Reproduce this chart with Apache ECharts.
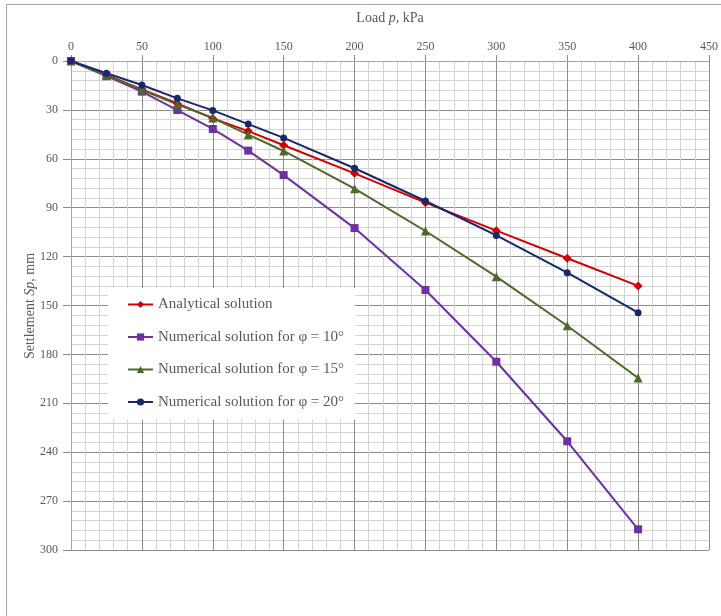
<!DOCTYPE html>
<html>
<head>
<meta charset="utf-8">
<script src="https://cdn.jsdelivr.net/npm/echarts@6/dist/echarts.min.js"></script>
<style>
html,body{margin:0;padding:0;background:#fff;}
#chart{width:721px;height:616px;}
</style>
</head>
<body>
<div id="chart"></div>
<script>
var loads = [0, 25, 50, 75, 100, 125, 150, 200, 250, 300, 350, 400];
var analytical = [0, 8.5, 17.4, 26, 35.2, 43, 51.7, 68.9, 86.9, 104.1, 121, 138];
var phi10 = [0, 9.2, 18.8, 30.1, 41.7, 55, 70, 102.5, 140.5, 184.5, 233.3, 287.3];
var phi15 = [0, 9, 17.8, 26.6, 35, 45.2, 55.2, 78.3, 104.3, 132.3, 162.4, 194.5];
var phi20 = [0, 7.5, 14.7, 22.9, 30.3, 38.7, 47.2, 65.8, 85.9, 107, 129.9, 154.4];
var seriesNames = ['Analytical solution', 'Numerical solution for φ = 10°', 'Numerical solution for φ = 15°', 'Numerical solution for φ = 20°'];
var xTitle = 'Load {i|p}, kPa';
var yTitle = 'Settlement {i|Sp}, mm';

function pairs(ys){ return loads.map(function(x,i){ return [x, ys[i]]; }); }

var font = '"Liberation Serif", "Times New Roman", serif';
var chart = echarts.init(document.getElementById('chart'));
function mk(name, data, color, symbol, size){
  return {
    name: name, type: 'line', data: pairs(data),
    symbol: symbol, symbolSize: size, showSymbol: true,
    lineStyle: {color: color, width: 2},
    itemStyle: {color: color},
    animation: false
  };
}
chart.setOption({
  animation: false,
  backgroundColor: '#fff',
  graphic: [{
    type: 'rect', shape: {x: 6.5, y: 4.5, width: 740, height: 700},
    style: {fill: 'none', stroke: '#a6a6a6', lineWidth: 1}, silent: true, z: -1
  }, {
    type: 'text', x: 30, y: 306, rotation: Math.PI / 2, silent: true,
    style: {
      text: yTitle, fontFamily: font, fontSize: 14, fill: '#595959',
      align: 'center', verticalAlign: 'middle',
      rich: {i: {fontFamily: font, fontSize: 14, fontStyle: 'italic', fill: '#595959'}}
    }
  }],
  grid: {left: 71, top: 61, width: 638, height: 489, containLabel: false},
  xAxis: {
    type: 'value', position: 'top', min: 0, max: 450, interval: 50,
    name: xTitle, nameLocation: 'middle', nameGap: 36,
    nameTextStyle: {fontFamily: font, fontSize: 14, color: '#595959',
      rich: {i: {fontFamily: font, fontSize: 14, fontStyle: 'italic', color: '#595959'}}},
    axisLine: {show: true, lineStyle: {color: '#a6a6a6', width: 1}},
    axisTick: {show: true, length: 6, lineStyle: {color: '#8c8c8c'}},
    axisLabel: {fontFamily: font, fontSize: 12, color: '#595959', margin: 8},
    splitLine: {show: true, lineStyle: {color: '#8c8c8c', width: 1}},
    minorTick: {show: false, splitNumber: 5},
    minorSplitLine: {show: true, lineStyle: {color: '#d4d4d4', width: 1}}
  },
  yAxis: {
    type: 'value', inverse: true, min: 0, max: 300, interval: 30,
    axisLine: {show: true, lineStyle: {color: '#a6a6a6', width: 1}},
    axisTick: {show: true, length: 8, lineStyle: {color: '#8c8c8c'}},
    axisLabel: {fontFamily: font, fontSize: 12, color: '#595959', margin: 13},
    splitLine: {show: true, lineStyle: {color: '#8c8c8c', width: 1}},
    minorTick: {show: false, splitNumber: 5},
    minorSplitLine: {show: true, lineStyle: {color: '#d4d4d4', width: 1}}
  },
  legend: {
    orient: 'vertical', left: 108, top: 288,
    padding: [9, 11, 10, 19], itemGap: 17.5, itemWidth: 25, itemHeight: 9,
    backgroundColor: '#fff',
    textStyle: {fontFamily: font, fontSize: 15, color: '#595959'},
    data: seriesNames
  },
  series: [
    mk(seriesNames[0], analytical, '#d40000', 'diamond', 9),
    mk(seriesNames[1], phi10, '#7030a0', 'rect', 8),
    mk(seriesNames[2], phi15, '#4a6a2a', 'triangle', 9),
    mk(seriesNames[3], phi20, '#16296a', 'circle', 7)
  ]
});
</script>
</body>
</html>
